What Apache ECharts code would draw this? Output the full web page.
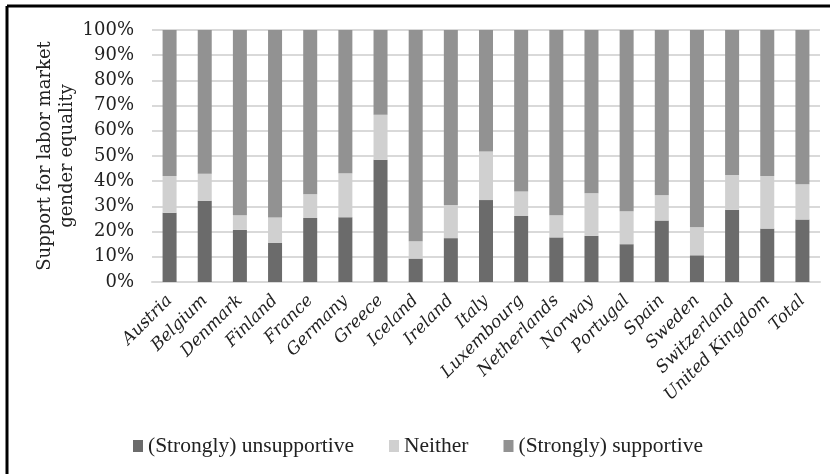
<!DOCTYPE html>
<html>
<head>
<meta charset="utf-8">
<script src="https://cdn.jsdelivr.net/npm/echarts@6/dist/echarts.min.js"></script>
<style>
  html, body { margin: 0; padding: 0; background: #fff; }
  #chart { width: 830px; height: 474px; }
</style>
</head>
<body>
<div id="chart"></div>
<script>
// Countries surveyed (plus the pooled total)
const countries = ['Austria', 'Belgium', 'Denmark', 'Finland', 'France', 'Germany', 'Greece',
  'Iceland', 'Ireland', 'Italy', 'Luxembourg', 'Netherlands', 'Norway', 'Portugal', 'Spain',
  'Sweden', 'Switzerland', 'United Kingdom', 'Total'];

// Shares of respondents, in percent
const unsupportive = [27.5, 32.2, 20.7, 15.6, 25.4, 25.7, 48.5, 9.3, 17.4, 32.5, 26.2, 17.7, 18.3, 15.0, 24.4, 10.6, 28.7, 21.2, 24.8];
const neither      = [14.6, 10.8, 5.8, 10.0, 9.4, 17.5, 17.9, 6.9, 13.2, 19.3, 9.7, 8.8, 16.9, 13.1, 10.0, 11.1, 13.8, 20.9, 14.0];
const supportive   = [57.9, 57.0, 73.5, 74.4, 65.2, 56.8, 33.6, 83.8, 69.4, 48.2, 64.1, 73.5, 64.8, 71.9, 65.6, 78.3, 57.5, 57.9, 61.2];

const yTicks = { min: 0, max: 100, step: 10 };

const serif = '"DejaVu Serif", "Liberation Serif", serif';
const chart = echarts.init(document.getElementById('chart'), null, { renderer: 'canvas' });

const barStyle = (name, data, color) => ({
  name, type: 'bar', stack: 'share', data, barWidth: 14,
  itemStyle: { color }, emphasis: { disabled: true }
});

chart.setOption({
  animation: false,
  backgroundColor: '#ffffff',
  grid: { left: 152, right: 10, top: 30, bottom: 192 },
  legend: {
    bottom: 12, left: 128, itemWidth: 10, itemHeight: 12, itemGap: 35,
    icon: 'rect',
    textStyle: { fontFamily: '"Liberation Serif", serif', fontSize: 21.5, color: '#222' },
    data: ['(Strongly) unsupportive', 'Neither', '(Strongly) supportive']
  },
  xAxis: {
    type: 'category', data: countries,
    axisLine: { lineStyle: { color: '#d9d9d9', width: 2 } },
    axisTick: { show: false },
    axisLabel: {
      interval: 0, rotate: 45, margin: 16,
      fontFamily: serif, fontStyle: 'italic', fontSize: 17, color: '#222'
    }
  },
  yAxis: {
    type: 'value', min: yTicks.min, max: yTicks.max, interval: yTicks.step,
    name: 'Support for labor market\ngender equality',
    nameLocation: 'middle', nameGap: 74, nameRotate: 90, nameMoveOverlap: false,
    nameTextStyle: { fontFamily: serif, fontSize: 18, color: '#222', lineHeight: 22 },
    axisLine: { show: false }, axisTick: { show: false },
    axisLabel: { formatter: '{value}%', fontFamily: serif, fontSize: 18, color: '#222', margin: 18 },
    splitLine: { lineStyle: { color: '#d9d9d9', width: 2 } }
  },
  series: [
    barStyle('(Strongly) unsupportive', unsupportive, '#6b6b6b'),
    barStyle('Neither', neither, '#d0d0d0'),
    barStyle('(Strongly) supportive', supportive, '#929292')
  ],
  graphic: [
    { type: 'line', shape: { x1: 7, y1: 6, x2: 830, y2: 6 }, style: { stroke: '#000', lineWidth: 3 } },
    { type: 'line', shape: { x1: 7, y1: 6, x2: 7, y2: 474 }, style: { stroke: '#000', lineWidth: 3 } }
  ]
});
</script>
</body>
</html>
